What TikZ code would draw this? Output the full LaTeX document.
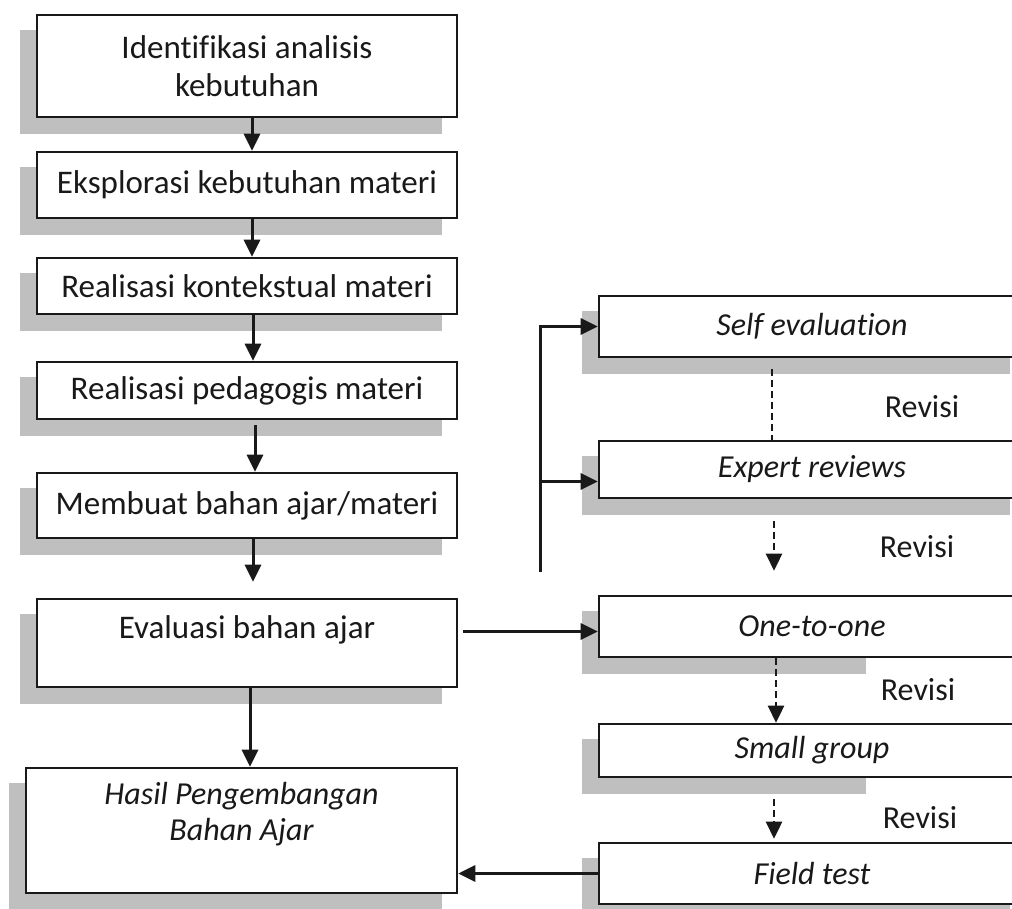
\documentclass[tikz,border=0pt]{standalone}
\usepackage{fontspec}
\setmainfont{Carlito}[Ligatures={NoCommon}]
\usetikzlibrary{arrows.meta,calc,backgrounds}
\begin{document}
\begin{tikzpicture}[x=1pt,y=-1pt,
  box/.style={draw=black!90, line width=2.6pt, fill=white, font=\fontsize{33}{38}\selectfont, text=black!90, inner sep=0pt, align=center},
  lbox/.style={box, minimum width=420pt},
  rbox/.style={box, minimum width=426pt, font=\fontsize{32}{37}\selectfont\itshape},
  shd/.style={fill=black!25},
  lbl/.style={font=\fontsize{32}{37}\selectfont, text=black!90, inner sep=0pt},
  arr/.style={draw=black!90, line width=3pt, -{Triangle[length=17pt,width=16pt]}},
  dline/.style={draw=black!90, line width=2.6pt, dash pattern=on 7pt off 4pt},
  dsh/.style={dline, -{Triangle[length=17pt,width=16pt]}}]
\clip (0,0) rectangle (1012,908);
\useasboundingbox (0,0) rectangle (1012,908);

% left column
\node[lbox, minimum height=102pt] (b1) at (247,66) {Identifikasi analisis\\kebutuhan};
\node[lbox, minimum height=66pt] (b2) at (247,185) {Eksplorasi kebutuhan materi};
\node[lbox, minimum height=56pt] (b3) at (247,286) {Realisasi kontekstual\ materi};
\node[lbox, minimum height=57pt] (b4) at (247,390.5) {Realisasi pedagogis materi};
\node[lbox, minimum height=65pt] (b5) at (247,505.5) {Membuat bahan ajar/materi};
\node[lbox, minimum height=88pt, text height=23pt, text depth=33pt] (b6) at (247,643) {Evaluasi bahan ajar};
\node[box, minimum width=431pt, minimum height=125pt, font=\fontsize{32}{36}\selectfont\itshape, text height=58pt, text depth=39pt] (b7) at (241.5,830.5) {Hasil Pengembangan\\Bahan Ajar};

% right column
\node[rbox, minimum height=61pt] (r1) at (812,326.5) {Self evaluation};
\node[rbox, minimum height=57pt] (r2) at (812,469.5) {Expert reviews};
\node[rbox, minimum height=61pt] (r3) at (812,626.5) {One-to-one};
\node[rbox, minimum height=53pt] (r4) at (812,750.5) {Small group};
\node[rbox, minimum height=61pt] (r5) at (812,873.5) {Field test};

\node[lbl] (t1) at (922,407) {Revisi};
\node[lbl] (t2) at (917,547) {Revisi};
\node[lbl] (t3) at (918,690) {Revisi};
\node[lbl] (t4) at (920,818) {Revisi};

% shadows
\begin{pgfonlayer}{background}
  \fill[white] (0,0) rectangle (1012,908);
  \foreach \n in {b1,b2,b3,b4,b5,b6,b7,r1,r2,r5}
    \fill[shd] ($(\n.north west)+(-16,16)$) rectangle ($(\n.south east)+(-16,16)$);
  \foreach \n in {r3,r4}
    \fill[shd] ($(\n.north west)+(-16,16)$) rectangle ($(\n.south west)+(268,16)$);
\end{pgfonlayer}

% left connectors
\draw[arr] ([xshift=5pt]b1.south) -- ([xshift=5pt]b2.north);
\draw[arr] ([xshift=5pt]b2.south) -- ([xshift=5pt]b3.north);
\draw[arr] ([xshift=6pt]b3.south) -- ([xshift=6pt]b4.north);
\draw[arr, shorten <=5pt] ([xshift=8pt]b4.south) -- ([xshift=8pt]b5.north);
\draw[arr, shorten >=16pt] ([xshift=6pt]b5.south) -- ([xshift=6pt]b6.north);
\draw[arr] ([xshift=3pt]b6.south) -- ([xshift=3pt]b6.south |- b7.north);

% to the right column
\draw[arr] ($(b6.east |- r3.west)+(5,5)$) -- ($(r3.west)+(0,5)$);
\coordinate (v0) at (540,572);
\draw[arr] (v0) |- (r1.west);
\draw[arr] ($(v0 |- r2.west)+(0,12)$) -- ($(r2.west)+(0,12)$);
\draw[arr] (r5.west) -- (r5.west -| b7.east);

% revision chain
\draw[dline] ($(r1.south)+(-40,11)$) -- ($(r2.north)+(-40,0)$);
\draw[dsh, shorten <=22pt, shorten >=24pt] ($(r2.south)+(-38,0)$) -- ($(r3.north)+(-38,0)$);
\draw[dsh] ($(r3.south)+(-36,0)$) -- ($(r4.north)+(-36,0)$);
\draw[dsh, shorten <=21pt, shorten >=3pt] ($(r4.south)+(-38,0)$) -- ($(r5.north)+(-38,0)$);
\end{tikzpicture}
\end{document}
